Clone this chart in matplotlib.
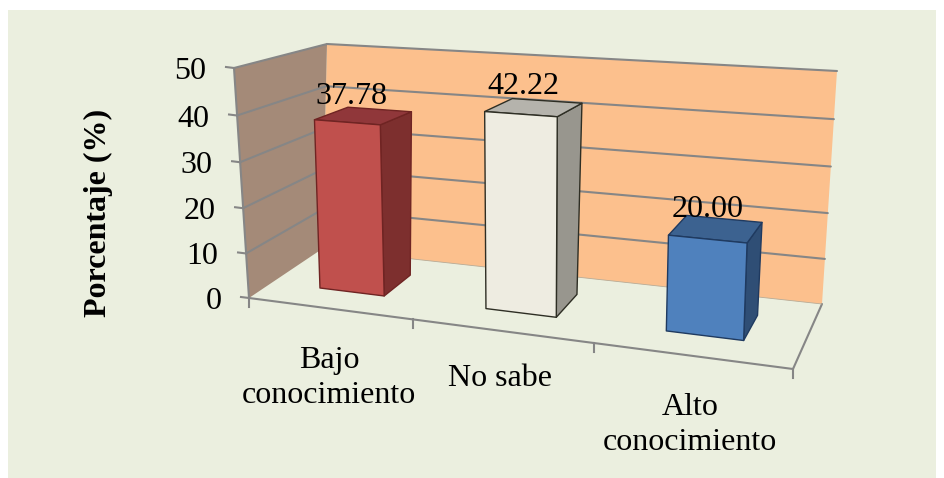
import numpy as np
import matplotlib
matplotlib.use("Agg")
import matplotlib.pyplot as plt
from matplotlib.patches import Polygon, Rectangle

# Chart data
categories = ["Bajo\nconocimiento", "No sabe", "Alto\nconocimiento"]
values = [37.78, 42.22, 20.00]
value_ticks = [0, 10, 20, 30, 40, 50]
axis_label = "Porcentaje (%)"

# Figure layout, in pixels
WIDTH, HEIGHT = 944, 478
PANEL = (8, 10, 936, 478)
VMAX = 50.0
GAP = 1.5  # gap width relative to the bar width
N = len(values)

# Perspective camera: (category, depth, value) anchors and where they land on the canvas
anchors = [
    ((0, 0, 0), (249, 298)),
    ((1, 0, 0), (793, 369)),
    ((0, 1, 0), (322, 249)),
    ((1, 1, 0), (822, 304)),
    ((0, 1, 1), (327, 44)),
    ((1, 1, 1), (837, 71)),
    ((0, 0, 1), (234, 68)),
    ((1 / 3, 0, 0), (412, 319)),
    ((2 / 3, 0, 0), (593, 343)),
]


def fit_camera(pairs):
    rows = []
    rhs = []
    for (a, b, c), (x, y) in pairs:
        rows.append([a, b, c, 1, 0, 0, 0, 0, -x * a, -x * b, -x * c])
        rhs.append(x)
        rows.append([0, 0, 0, 0, a, b, c, 1, -y * a, -y * b, -y * c])
        rhs.append(y)
    sol = np.linalg.lstsq(np.array(rows, float), np.array(rhs, float), rcond=None)[0]
    return np.append(sol, 1.0).reshape(3, 4)


CAMERA = fit_camera(anchors)


def camera_point(u, d, w):
    p = CAMERA @ np.array([u, d, w, 1.0])
    return p[:2] / p[2]


# Residual of the camera at the box corners, blended across the box so the frame lands exactly
corner_residual = {k: np.array(xy, float) - camera_point(*k) for k, xy in anchors[:7]}
corner_residual[(1, 0, 1)] = (corner_residual[(1, 0, 0)] + corner_residual[(0, 0, 1)]
                              - corner_residual[(0, 0, 0)])


def project(u, d, value):
    """Map category position, depth and data value to canvas pixels."""
    w = value / VMAX
    shift = np.zeros(2)
    for (a, b, c), r in corner_residual.items():
        shift += r * (u if a else 1 - u) * (d if b else 1 - d) * (w if c else 1 - w)
    return camera_point(u, d, w) + shift


fig = plt.figure(figsize=(WIDTH / 100, HEIGHT / 100), dpi=100, facecolor="white")
ax = fig.add_axes([0, 0, 1, 1])
ax.set_xlim(0, WIDTH)
ax.set_ylim(HEIGHT, 0)
ax.axis("off")
plt.rcParams["font.family"] = ["Liberation Serif", "DejaVu Serif"]

ax.add_patch(Rectangle((PANEL[0], PANEL[1]), PANEL[2] - PANEL[0], PANEL[3] - PANEL[1],
                       facecolor="#EBEFDF", edgecolor="none", zorder=0))


def face(corners, color, edge="none", lw=0.0, z=1):
    ax.add_patch(Polygon([project(*c) for c in corners], closed=True, facecolor=color,
                         edgecolor=edge, linewidth=lw, joinstyle="round", zorder=z))


def segment(a, b, z=3, color="#868686", lw=1.5):
    pa, pb = project(*a), project(*b)
    ax.plot([pa[0], pb[0]], [pa[1], pb[1]], color=color, lw=lw,
            solid_capstyle="round", zorder=z)


# Walls
face([(0, 1, 0), (1, 1, 0), (1, 1, VMAX), (0, 1, VMAX)], "#FCC08D")
face([(0, 0, 0), (0, 1, 0), (0, 1, VMAX), (0, 0, VMAX)], "#A48A78")

# Gridlines across both walls, with value ticks and their labels
for t in value_ticks:
    if t > 0:
        segment((0, 1, t), (1, 1, t))
        segment((0, 1, t), (0, 0, t))
    start = project(0, 0, t)
    ax.plot([start[0] - 8, start[0]], [start[1] - 1, start[1]], color="#868686", lw=1.5, zorder=3)
    ax.text(start[0] - 27.5, start[1], str(t), ha="right", va="center_baseline",
            fontsize=23, color="black", zorder=6)

# Wall and floor frame
segment((0, 0, 0), (0, 0, VMAX))
segment((0, 0, 0), (1, 0, 0))
segment((1, 0, 0), (1, 1, 0))
segment((0, 1, 0), (1, 1, 0), lw=0.6, color="#B8AB96")

# Category ticks
for i in range(N + 1):
    p = project(i / N, 0, 0)
    ax.plot([p[0], p[0]], [p[1], p[1] + 9], color="#868686", lw=1.5, zorder=3)

# Bars
bar_styles = [
    ("#C0504D", "#7D2F2E", "#90373A", "#6F2423"),
    ("#EEECE1", "#98968E", "#B5B3AC", "#2E2E24"),
    ("#4F81BD", "#2F4E75", "#3C6290", "#1F3A60"),
]
slot = 1 / N
bar_width = slot / (1 + GAP)
D0, D1 = 0.3, 0.7
label_offsets = [(-12, -23), (-11, -24), (-8.5, -23)]
bar_nudge = [0.001, 0.003, 0.002]
for i, (val, (front, side, top, edge)) in enumerate(zip(values, bar_styles)):
    u0 = (i + 0.5) * slot - bar_width / 2 + bar_nudge[i]
    u1 = u0 + bar_width
    face([(u1, D0, 0), (u1, D1, 0), (u1, D1, val), (u1, D0, val)], side, edge, 1.0, 4)
    face([(u0, D0, val), (u1, D0, val), (u1, D1, val), (u0, D1, val)], top, edge, 1.0, 4)
    face([(u0, D0, 0), (u1, D0, 0), (u1, D0, val), (u0, D0, val)], front, edge, 1.0, 5)
    c = project((u0 + u1) / 2, (D0 + D1) / 2, val)
    ax.text(c[0] + label_offsets[i][0], c[1] + label_offsets[i][1], f"{val:.2f}", ha="center",
            va="center_baseline", fontsize=23, color="black", zorder=7)

# Category labels
cat_x = [329, 500, 690]
cat_y = [378, 378, 425]
for name, x, y in zip(categories, cat_x, cat_y):
    ax.text(x, y, name, ha="center", va="center", ma="center", fontsize=23,
            linespacing=1.27, color="black", zorder=6)

# Value axis title
ax.text(98, 213, axis_label, rotation=90, ha="center", va="center", fontsize=23,
        fontweight="bold", color="black", zorder=6)

fig.savefig("out.png", dpi=100, facecolor="white")
